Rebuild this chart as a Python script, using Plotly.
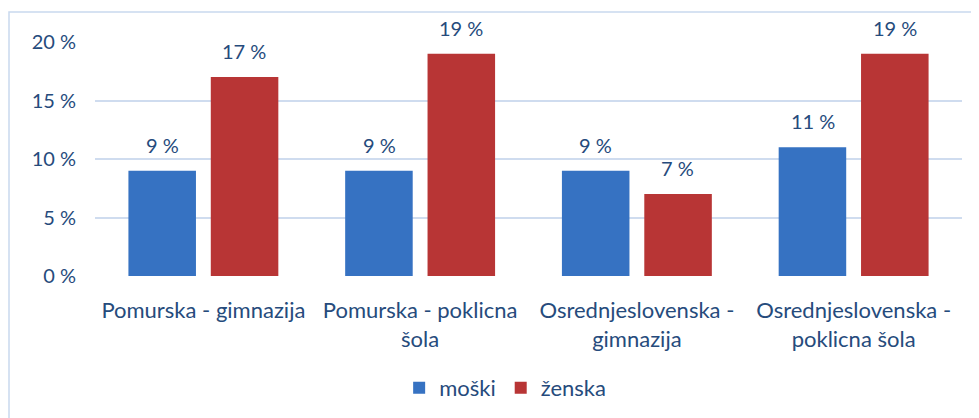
import plotly.graph_objects as go

categories = ["Pomurska - gimnazija", "Pomurska - poklicna<br>šola",
              "Osrednjeslovenska -<br>gimnazija", "Osrednjeslovenska -<br>poklicna šola"]
moski = [9, 9, 9, 11]
zenska = [17, 19, 7, 19]
y_ticks = [0, 5, 10, 15, 20]

TXT = "#264b7c"
FONT = "Lato, 'Open Sans', sans-serif"
FS = 20
FS_TXT = 22

fig = go.Figure()
fig.add_trace(go.Bar(name="moški", x=categories, y=moski,
                     marker=dict(color="#3672c2", line=dict(width=0))))
fig.add_trace(go.Bar(name="ženska", x=categories, y=zenska,
                     marker=dict(color="#b83535", line=dict(width=0))))

# data labels above bars
for vals, shift in ((moski, -41), (zenska, 41)):
    for c, v in zip(categories, vals):
        fig.add_annotation(x=c, y=v, xref="x", yref="y", text=f"{v} %",
                           showarrow=False, xshift=shift, yshift=26, yanchor="middle",
                           font=dict(size=FS, color=TXT, family=FONT))

fig.update_layout(
    width=971, height=410,
    margin=dict(l=87, r=17, t=34, b=142, autoexpand=False),
    paper_bgcolor="white", plot_bgcolor="white",
    barmode="group", bargap=0.24, bargroupgap=0.18,
    font=dict(family=FONT, size=FS, color=TXT),
    showlegend=True,
    legend=dict(orientation="h", xref="container", yref="container",
                x=0.512, xanchor="center", y=0.073, yanchor="middle",
                font=dict(size=FS_TXT, color=TXT), itemwidth=30),
)
fig.update_yaxes(range=[0, 20], tickvals=y_ticks, ticktext=[f"{v} %" for v in y_ticks],
                 showgrid=True, gridcolor="#cfdcef", gridwidth=2, zeroline=False,
                 showline=False, ticklabelstandoff=18, automargin=False,
                 tickfont=dict(size=FS, color=TXT, family=FONT))
fig.update_xaxes(showgrid=False, showline=False, zeroline=False, ticks="",
                 ticklabelstandoff=19, automargin=False,
                 tickfont=dict(size=FS_TXT, color=TXT, family=FONT))

fig.add_shape(type="rect", xref="paper", yref="paper",
              x0=-0.0992, x1=1.05, y0=-0.7, y1=1.128,
              line=dict(color="#c9d9ee", width=1.5), fillcolor="rgba(0,0,0,0)", layer="below")

fig.write_html("out.html")
